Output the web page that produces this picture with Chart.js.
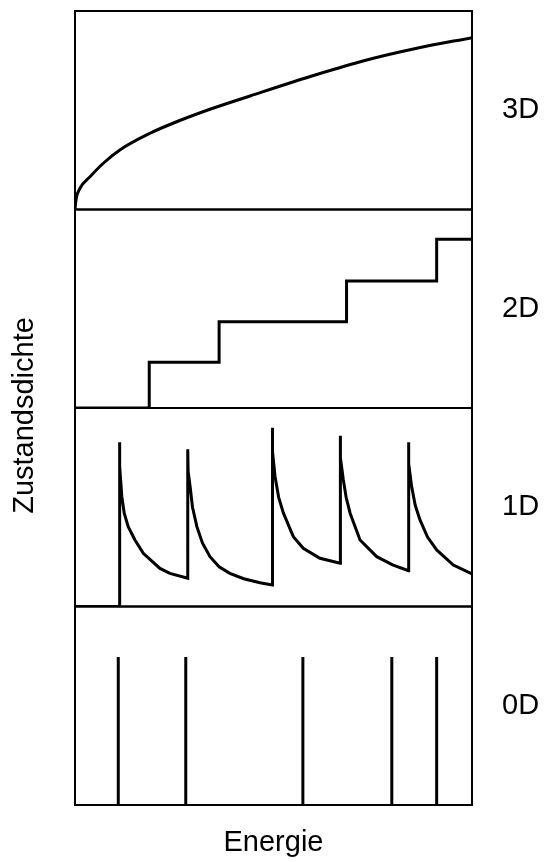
<!DOCTYPE html>
<html>
<head>
<meta charset="utf-8">
<title>Zustandsdichte</title>
<script src="https://cdn.jsdelivr.net/npm/chart.js@4"></script>
<style>
    body { margin: 0; background: #fff; }
    #wrap { width: 544px; height: 862px; }
</style>
</head>
<body>
<div id="wrap"><canvas id="grafico" width="544" height="862"></canvas></div>
<script>
// Daten (Energie 0..100, Zustandsdichte je Feld 0..1)
const panelLabels = ['3D', '2D', '1D', '0D']

// 3D: wurzelfoermiger Anstieg
const dos3dX = [0, 0.25, 1.26, 3.78, 7.13, 11.3, 18.9, 25.6, 34.0, 44.1, 60.9, 73.5, 86.1, 100]
const dos3dY = [0, 0.048, 0.107, 0.165, 0.233, 0.300, 0.384, 0.442, 0.505, 0.572, 0.680, 0.753, 0.812, 0.866]

// 2D: Stufen
const dos2dX = [0, 18.7, 36.3, 68.4, 91.1, 100]
const dos2dY = [0, 0.23, 0.435, 0.64, 0.85, 0.85]

// 1D: Spitzen mit Abfall
const dos1dX = [0, 11.2, 11.2, 11.3, 11.8, 12.4, 13.4, 15.1, 17.2, 21.4, 23.9, 28.4,
    28.4, 28.5, 29.0, 29.6, 30.7, 32.1, 34.0, 36.3, 39.0, 42.5, 46.6, 49.7,
    49.7, 49.8, 50.4, 51.3, 52.5, 55.0, 57.5, 61.7, 66.8,
    66.8, 66.9, 67.6, 68.3, 69.3, 71.8, 76.0, 80.0, 84.0,
    84.0, 84.1, 84.8, 85.7, 86.9, 88.8, 91.1, 95.3, 100]
const dos1dY = [0, 0, 0.827, 0.706, 0.553, 0.470, 0.402, 0.335, 0.268, 0.192, 0.167, 0.142,
    0.792, 0.68, 0.604, 0.50, 0.402, 0.32, 0.251, 0.20, 0.167, 0.14, 0.120, 0.108,
    0.901, 0.78, 0.654, 0.55, 0.470, 0.352, 0.293, 0.243, 0.218,
    0.860, 0.75, 0.637, 0.55, 0.470, 0.335, 0.251, 0.21, 0.180,
    0.827, 0.72, 0.604, 0.51, 0.436, 0.35, 0.285, 0.209, 0.164]

// 0D: diskrete Niveaus
const dos0dX = [10.9, 27.9, 57.4, 79.8, 91.1]
const dos0dY = [0.745, 0.745, 0.745, 0.745, 0.745]

const pontos = (xs, ys) => xs.map((x, i) => ({ x: x, y: ys[i] }))

const linhas0d = []
dos0dX.forEach((x, i) => {
    linhas0d.push({ x: x, y: 0 })
    linhas0d.push({ x: x, y: dos0dY[i] })
    linhas0d.push({ x: x, y: null })
})

const estiloLinha = {
    borderColor: '#000',
    borderWidth: 3,
    pointRadius: 0,
    fill: false,
    borderJoinStyle: 'miter',
    tension: 0
}

const painelIds = ['y3', 'y2', 'y1', 'y0']

function escalaPainel(i) {
    return {
        type: 'linear',
        position: 'right',
        stack: 'paineis',
        stackWeight: 1,
        min: 0,
        max: 1,
        grid: { display: false, drawTicks: false },
        border: { display: false },
        afterBuildTicks: s => { s.ticks = [{ value: 0.5 }] },
        afterFit: s => {
            s.width = 72
            s.paddingTop = 0
            s.paddingBottom = 0
        },
        ticks: {
            padding: 30,
            color: '#000',
            callback: () => panelLabels[i]
        }
    }
}

// Rahmen um jedes Feld
const molduras = {
    id: 'molduras',
    afterLayout(chart) {
        const s = chart.scales.yTitle
        s.top += 7
        s.bottom += 8
    },
    beforeDatasetsDraw(chart) {
        const { ctx, chartArea } = chart
        ctx.save()
        ctx.strokeStyle = '#000'
        ctx.lineWidth = 2
        painelIds.forEach(id => {
            const s = chart.scales[id]
            ctx.strokeRect(chartArea.left, s.top, chartArea.right - chartArea.left, s.bottom - s.top)
        })
        ctx.restore()
    }
}

Chart.defaults.font.family = '"Liberation Sans", Arial, sans-serif'
Chart.defaults.font.size = 29
Chart.defaults.color = '#000'

const ctx = document.getElementById('grafico')

const escalas = {
    x: {
        type: 'linear',
        min: 0,
        max: 100,
        grid: { display: false },
        border: { display: false },
        ticks: { display: false },
        afterFit: s => {
            s.height = 57
            s.paddingLeft = 0
            s.paddingRight = 0
        },
        title: { display: true, text: 'Energie', padding: { top: 0, bottom: 2 } }
    },
    yTitle: {
        type: 'linear',
        position: 'left',
        min: 0,
        max: 1,
        grid: { display: false },
        border: { display: false },
        ticks: { display: false },
        afterFit: s => {
            s.width = 75
            s.paddingTop = 0
            s.paddingBottom = 0
        },
        title: { display: true, text: 'Zustandsdichte', padding: { top: 8, bottom: 0 } }
    }
}
painelIds.forEach((id, i) => { escalas[id] = escalaPainel(i) })

let grafico = new Chart(ctx, {
    type: 'line',
    data: {
        datasets: [
            { ...estiloLinha, label: '3D', data: pontos(dos3dX, dos3dY), yAxisID: 'y3', cubicInterpolationMode: 'monotone' },
            { ...estiloLinha, label: '2D', data: pontos(dos2dX, dos2dY), yAxisID: 'y2', stepped: 'before' },
            { ...estiloLinha, label: '1D', data: pontos(dos1dX, dos1dY), yAxisID: 'y1' },
            { ...estiloLinha, label: '0D', data: linhas0d, yAxisID: 'y0', spanGaps: false, borderCapStyle: 'butt' }
        ]
    },
    options: {
        responsive: false,
        animation: false,
        devicePixelRatio: 1,
        layout: { padding: { top: 11, left: 0, right: 0, bottom: 0 } },
        plugins: {
            legend: { display: false },
            tooltip: { enabled: false }
        },
        scales: escalas
    },
    plugins: [molduras]
})
</script>
</body>
</html>
